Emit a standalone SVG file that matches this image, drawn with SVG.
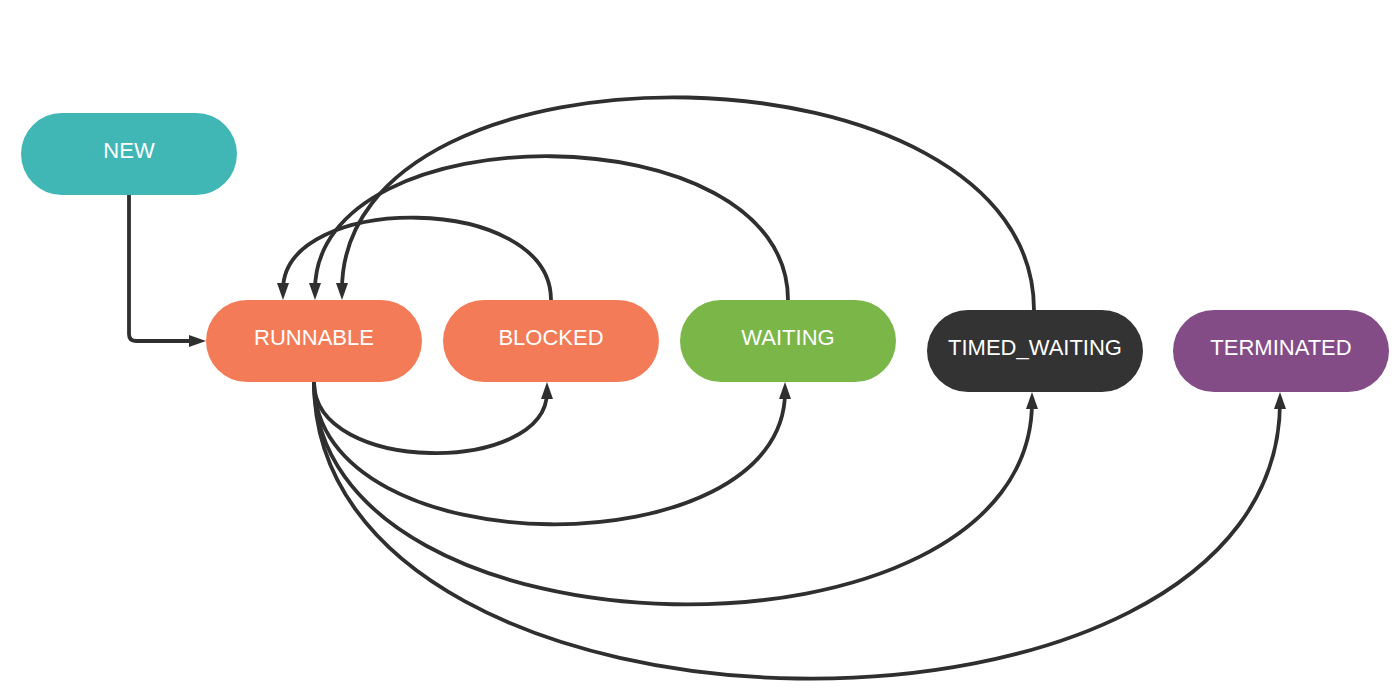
<svg xmlns="http://www.w3.org/2000/svg" width="1400" height="699" viewBox="0 0 1400 699">
<defs>
<marker id="arr" markerUnits="userSpaceOnUse" markerWidth="17" markerHeight="12" viewBox="0 0 17 12" refX="7" refY="6" orient="auto">
<path d="M0,0 L17,6 L0,12 z" fill="#2f2f2f"/>
</marker>
<style>
.lbl{font-family:"Liberation Sans",Arial,sans-serif;font-size:22px;fill:#ffffff;text-anchor:middle}
.c{fill:none;stroke:#2f2f2f;stroke-width:3.8;marker-end:url(#arr)}
</style>
</defs>
<rect width="1400" height="699" fill="#ffffff"/>
<g id="connectors">
<path class="c" d="M129,195 L129,334 Q129,341 136,341 L196,341"/>
<path class="c" d="M551,300 C551,192 283,192 283,290"/>
<path class="c" d="M788,300 C788,110 315,110 315,290"/>
<path class="c" d="M1034,310 C1034,35 342,25 342,290"/>
<path class="c" d="M314,382 C314,475 547,475 547,392"/>
<path class="c" d="M314,382 C314,570 785,570 785,392"/>
<path class="c" d="M314,382 C314,670 1032,680 1032,402"/>
<path class="c" d="M314,382 C314,769 1280,779 1280,402"/>
</g>
<g id="node-new">
<rect x="21" y="113" width="216" height="82" rx="41" fill="#40b7b5"/>
<text class="lbl" x="129" y="158">NEW</text>
</g>
<g id="node-runnable">
<rect x="206" y="300" width="216" height="82" rx="41" fill="#f37b57"/>
<text class="lbl" x="314" y="345">RUNNABLE</text>
</g>
<g id="node-blocked">
<rect x="443" y="300" width="216" height="82" rx="41" fill="#f37b57"/>
<text class="lbl" x="551" y="345">BLOCKED</text>
</g>
<g id="node-waiting">
<rect x="680" y="300" width="216" height="82" rx="41" fill="#7ab648"/>
<text class="lbl" x="788" y="345">WAITING</text>
</g>
<g id="node-timed-waiting">
<rect x="927" y="310" width="216" height="82" rx="41" fill="#333333"/>
<text class="lbl" x="1035" y="355">TIMED_WAITING</text>
</g>
<g id="node-terminated">
<rect x="1173" y="310" width="216" height="82" rx="41" fill="#834c86"/>
<text class="lbl" x="1281" y="355">TERMINATED</text>
</g>
</svg>
